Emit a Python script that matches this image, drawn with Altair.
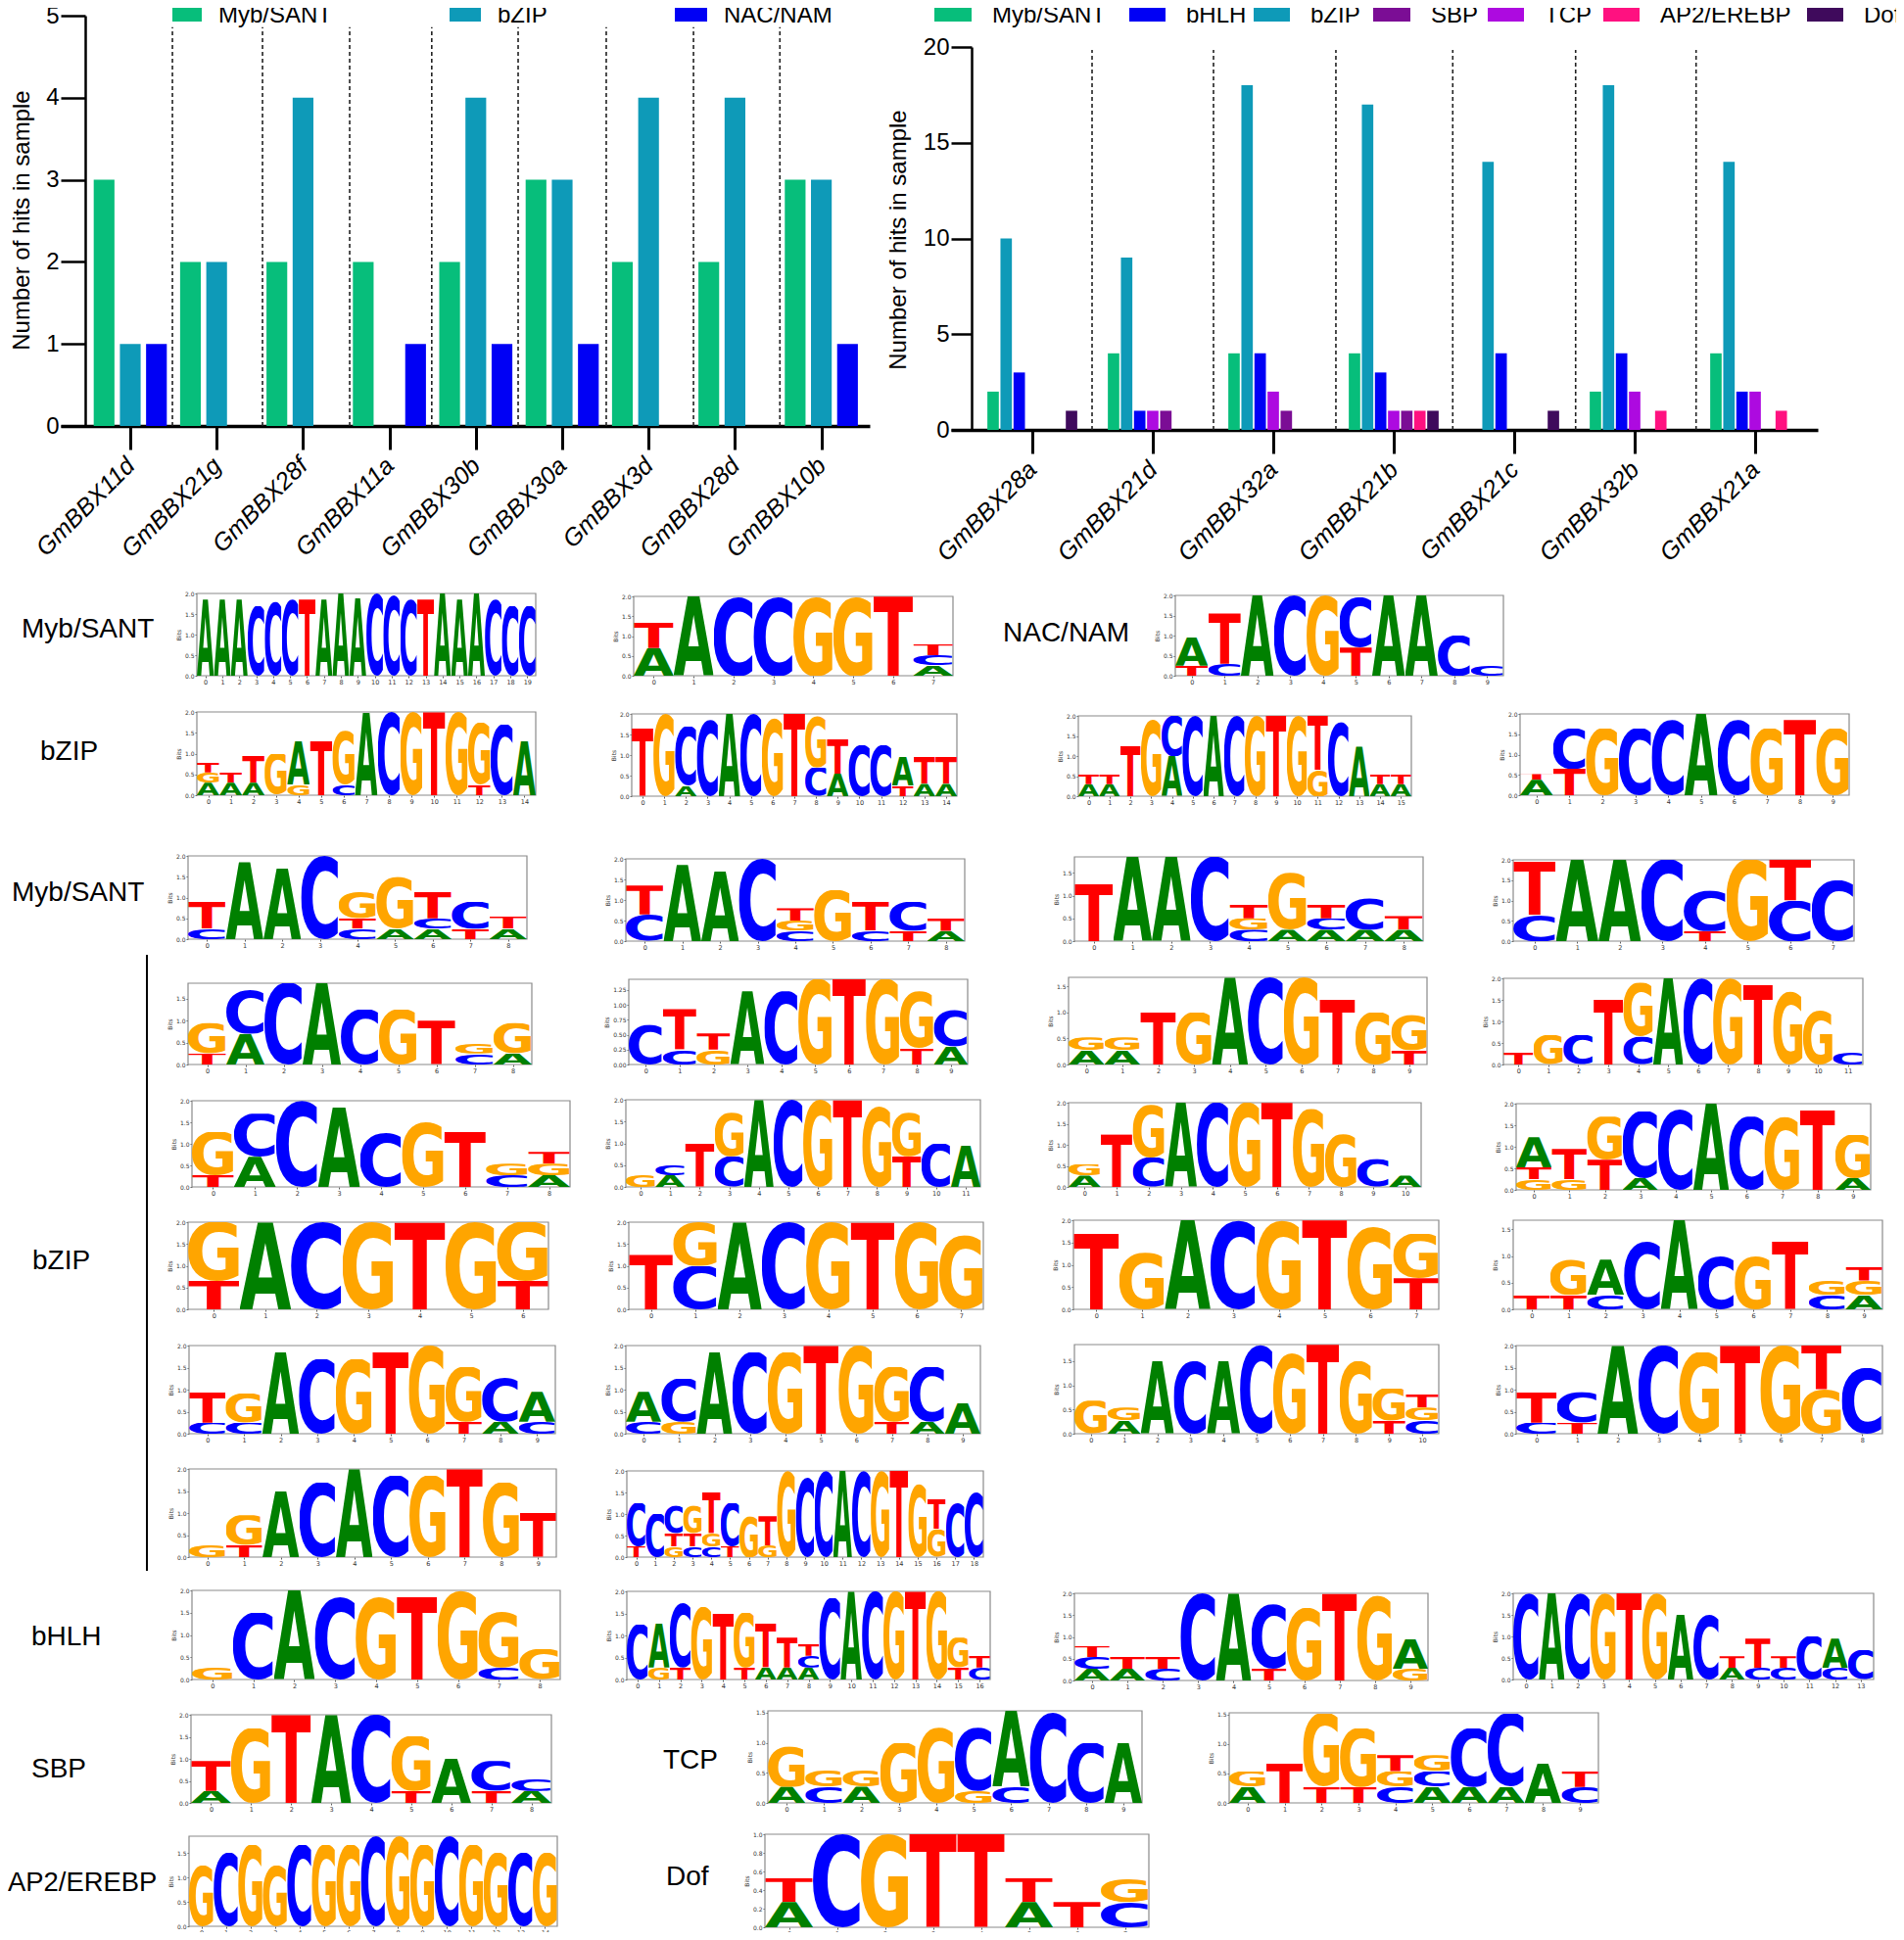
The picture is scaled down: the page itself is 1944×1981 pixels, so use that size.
import base64, json
import altair as alt
import pandas as pd

W, H = 1928, 1965
FONT = "Liberation Sans"
def px(v): return v - 8
def py(v): return v - 8

# ---------- bar data ----------
G1 = ["GmBBX11d","GmBBX21g","GmBBX28f","GmBBX11a","GmBBX30b","GmBBX30a","GmBBX3d","GmBBX28d","GmBBX10b"]
G1_MYB  = [3,2,2,2,2,3,2,2,3]
G1_BZIP = [1,2,4,0,4,3,4,4,3]
G1_NAC  = [1,0,0,1,1,1,0,0,1]
G1_SEP  = [0.488,1.531,2.54,3.49,4.49,5.51,6.52,7.52]

G2 = ["GmBBX28a","GmBBX21d","GmBBX32a","GmBBX21b","GmBBX21c","GmBBX32b","GmBBX21a"]
G2_MYB  = [2,4,4,4,0,2,4]
G2_BZIP = [10,9,18,17,14,18,14]
G2_BHLH = [3,1,4,3,4,4,2]
G2_TCP  = [0,1,2,1,0,2,2]
G2_SBP  = [0,1,1,1,0,0,0]
G2_AP2  = [0,0,0,1,0,1,1]
G2_DOF  = [1,0,0,1,1,0,0]
G2_SEP  = [0.496,1.504,2.52,3.49,4.51,5.51]

COL = {"Myb/SANT":"#07BE7B","bZIP":"#0E9AB8","NAC/NAM":"#0000F5","bHLH":"#0000F5",
       "TCP":"#AD0AE0","SBP":"#7B0D95","AP2/EREBP":"#FF1180","Dof":"#3F0A5C"}

# ---------- logo data: each column bottom-to-top as letter+height in bits ----------
L01 = ["A1.85","A1.85","A1.85","C1.7","C1.8","C1.85","T1.85","A1.85","A2","A1.9","C2","C1.95","C1.85","T1.85","A2","A1.85","A2","C1.85","C1.7","C1.7"]
L02 = ["A.7 T.65","A2","C2","C2","G2","G2","T2","A.27 C.25 T.28"]
L03 = ["T.25 A.7","C.3 T1.25","A2","C2","G2","T.7 C1.25","A2","A2","C1","C.25"]
L04 = ["A.3 G.25 T.25","A.3 T.25","A.3 T.65","G1","G.25 A1.05","T1.3","C.25 G1.3","A2","C2","G2","T2","G2","T.25 G1.5","C1.7","A1.3"]
L05 = ["T1.65","G2","A.25 C1.45","C1.85","A2","C2","G1.9","T2","C.7 G1.25","A.55 T.85","C1.25","C1.25","T.25 A.7","A.3 T.65","A.3 T.65"]
L06 = ["A.3 T.25","A.3 T.25","T1.25","G1.9","A1 C1","C2","A2","C2","G2","T2","G2","G.65 T1.35","C1.85","A1.25","A.3 T.25","A.3 T.25"]
L07 = ["A.38 T.14","T.65 C1","G1.65","C1.65","C1.85","A2","C1.85","G1.65","T1.85","G1.65"]
L08 = ["C.25 T.65","A1.85","A1.7","C2","C.25 T.25 G.65","A.25 G1.25","A.25 C.25 T.65","T.25 C.65","A.25 T.3"]
L09 = ["C.65 T.7","A1.85","A1.7","C2","C.25 G.25 T.3","G1.25","C.25 T.7","T.25 C.7","A.25 T.3"]
L10 = ["T1.25","A1.85","A1.85","C1.85","C.25 G.25 T.3","A.25 G1.25","A.25 C.25 T.3","A.25 C.7","A.25 T.3"]
L11 = ["C.65 T1.3","A2","A2","C2","T.25 C1","G2","C1 T1","C1.5"]
L12 = ["T.25 G.7","A.7 C1","C1.85","A1.85","C1.25","G1.25","T1","C.25 G.25","A.25 G.7"]
L13 = ["C.67","C.25 T.68","G.25 T.27","A1.23","C1.23","G1.43","T1.43","G1.43","T.27 G.96","A.3 C.62"]
L14 = ["A.27 G.25","A.27 G.25","T1","G1","A1.67","C1.67","G1.67","T1.25","G1","T.27 G.68"]
L15 = ["T.27","G.68","C.68","T1.5","C.65 G1.25","A2","C2","G2","T1.85","G1.7","G1.25","C.27"]
L16 = ["T.27 G1","A.7 C1","C2","A1.85","C1.27","G1.5","T1.27","C.27 G.27","A.27 G.27 T.27"]
L17 = ["G.27","A.27 C.25","T1","C.7 G1","A2","C2","G2","T2","G1.85","T.7 G1","C1","A.95"]
L18 = ["A.27 G.27","T1.25","C.7 G1.25","A2","C2","G2","T2","G1.85","G1.25","C.67","A.27"]
L19 = ["G.25 T.27 A.7","G.25 T.7","T.7 G1","A.27 C1.55","C1.87","A2","C1.7","G1.7","T1.85","A.27 G1"]
L20 = ["T.65 G1.35","A2","C2","G2","T2","G2","T.65 G1.35"]
L21 = ["T1.25","C1 G1","A2","C2","G2","T2","G2","G1.7"]
L22 = ["T1.7","G1.27","A2","C2","G2","T2","G1.85","T.7 G1"]
L23 = ["T.27","T.27 G.68","C.27 A.66","C1.27","A1.67","C1","G1","T1.27","C.27 G.27","A.27 G.27 T.25"]
L24 = ["C.25 T.7","C.25 G.67","A1.85","C1.7","G1.7","T1.85","G2","T.27 G1.25","A.27 C1","C.27 A.68"]
L25 = ["C.27 A.68","G.27 C.98","A1.85","C1.85","G1.85","T2","G2","T.27 G1.25","A.27 C1.25","A.7"]
L26 = ["G.68","A.27 G.27","A1.5","C1.5","A1.5","C1.84","G1.67","T1.84","G1.5","T.27 G.67","C.27 G.27 T.27"]
L27 = ["C.25 T.7","T.25 C.7","A2","C2","G1.85","T2","G2","G1 T1","C1.5"]
L28 = ["G.27","T.27 G.68","A1.5","C1.7","A2","C1.85","G1.85","T2","G1.7","T1"]
L29 = ["T.25 C1","C1","G.25 T.3 C.65","C.25 T.3 G.65","C.25 G.3 T.95","T.25 C1","G.95","G.27 T.68","G2","C1.85","C2","A2","C2","G2","T2","G1.7","G.65 T.7","C1.25","C1.5"]
L30 = ["G.27","C1.5","A2","C1.85","G1.85","T1.85","G2","C.27 G1.25","G.68"]
L31 = ["C1.25","G.27 A1","T.27 C1.48","G1.65","T1.5","T.27 G1.25","A.27 T1","A.27 T.68","A.27 C.27 T.27","C1.85","A2","C2","G2","T2","G2","T.27 G.68","C.27 T.27"]
L32 = ["A.27 C.27 T.25","A.27 T.27","C.27 T.27","C2","A2","T.27 C1.48","G1.67","T2","G1.95","G.27 A.68"]
L33 = ["C2","A2","C2","G2","T2","G2","A1.5","C1.5","A.27 T.27","C.27 T.68","C.27 T.27","C1","C.27 A.68","C.68"]
L34 = ["A.27 T.68","G1.7","T2","A2","C2","T.27 G1.25","A1","T.27 C.68","A.27 C.27"]
L35 = ["A.27 G.67","C.27 G.27","A.27 G.27","G1","G1.25","G.2 C1.05","C.27 A1.26","C1.5","C1","A1"]
L36 = ["A.27 G.27","T.67","T.27 G1.25","T.27 G1","C.27 G.27 T.27","A.27 C.27 G.27","A.27 C1","A.27 C1.25","A.67","C.27 T.27"]
L37 = ["G1.25","C1.5","G1.67","G1.25","C1.67","G1.67","G1.67","C1.84","G1.84","G1.67","C1.84","G1.67","G1.5","C1.5","G1.5"]
L38 = ["A.27 T.26","C1","G1","T1","T1","A.27 T.26","T.27","C.27 G.25"]

LOGOS = [L01,L02,L03,L04,L05,L06,L07,L08,L09,L10,L11,L12,L13,L14,L15,L16,L17,L18,L19,
         L20,L21,L22,L23,L24,L25,L26,L27,L28,L29,L30,L31,L32,L33,L34,L35,L36,L37,L38]
YMAX = [2,2,2,2,2,2,2,2,2,1.85,2,1.85,1.43,1.67,2,2,2,2,2,2,2,2,1.67,2,2,1.84,2,2,2,2,2,2,2,2,1.53,1.53,1.84,1]
YSTEP = [.5]*12+[.25]+[.5]*24+[.2]

# layout boxes: left, right, top, bottom in page pixels
BOX = [(201,547,606,690),(647,973,609,690),(1200,1535,608,690),
       (201,547,727,812),(645,977,729,813),(1101,1441,731,813),(1552,1888,729,812),
       (192,538,874,959),(639,985,877,961),(1097,1453,875,961),(1545,1893,878,961),
       (192,543,1004,1087),(642,988,1000,1087),(1091,1457,998,1087),(1535,1902,999,1087),
       (196,582,1124,1212),(639,1001,1123,1212),(1091,1451,1126,1212),(1548,1910,1127,1215),
       (192,560,1248,1337),(642,1004,1248,1337),(1096,1469,1246,1337),(1545,1922,1246,1337),
       (193,567,1374,1464),(639,1001,1374,1464),(1097,1469,1373,1464),(1548,1922,1374,1464),
       (193,568,1500,1590),(640,1004,1502,1590),
       (196,572,1624,1715),(640,1011,1625,1715),(1097,1458,1627,1716),(1545,1913,1627,1715),
       (195,563,1751,1841),(784,1166,1747,1841),(1255,1632,1749,1841),
       (193,569,1875,1967),(781,1173,1873,1968)]

LETTER_COL = {"A":"#008000","C":"#0000FF","G":"#FFA500","T":"#FF0000"}
LETTER_VB = {"A":"5 -729 764 729","C":"49 -743 640 757","G":"49 -743 716 757","T":"-3 -729 688 729"}
def letter_url(ch):
    svg = (f'<svg xmlns="http://www.w3.org/2000/svg" width="200" height="200" viewBox="{LETTER_VB[ch]}" '
           f'preserveAspectRatio="none"><text x="0" y="0" font-family="DejaVu Sans" font-weight="bold" '
           f'font-size="1000" fill="{LETTER_COL[ch]}">{ch}</text></svg>')
    return "data:image/svg+xml;base64," + base64.b64encode(svg.encode()).decode()
URL = {c: letter_url(c) for c in "ACGT"}

def logo_layers(cols, ymax, step, box):
    rows = []
    for i, col in enumerate(cols):
        base = 0.0
        for seg in col.split():
            h = float(seg[1:])
            rows.append(dict(x0=i-.5, x1=i+.5, y0=base, y1=base+h, url=URL[seg[0]]))
            base += h
    n = len(cols)
    l, r, t, b = box
    sx = alt.Scale(domain=[-.5, n-.5], range=[px(l), px(r)], nice=False, zero=False)
    sy = alt.Scale(domain=[0, ymax], range=[py(b), py(t)], nice=False, zero=False)
    yt = []
    v = 0.0
    while v <= ymax + 1e-9:
        yt.append(round(v, 2)); v += step
    fmt = ".2f" if step < .2 or step == .25 else ".1f"
    frame = pd.DataFrame([dict(x0=-.5, x1=n-.5, y0=0, y1=ymax)])
    f = alt.Chart(frame).mark_rect(fill="white", stroke="#8a8a8a", strokeWidth=1.2).encode(
        x=alt.X("x0:Q", scale=sx, axis=None), x2="x1:Q",
        y=alt.Y("y0:Q", scale=sy, axis=None), y2="y1:Q")
    ax = alt.Axis(orient="bottom", offset=py(b)-H, values=list(range(n)), format="d", grid=False, domain=False,
                  tickSize=2, tickWidth=.8, tickColor="#333", labelFontSize=6.5, labelColor="#333", labelPadding=1,
                  labelFont="DejaVu Sans", labelFlush=False, labelOverlap=False, labelAngle=0, title=None)
    ay = alt.Axis(orient="left", offset=-px(l), values=yt, format=fmt, grid=False, domain=False,
                  tickSize=2, tickWidth=.8, tickColor="#333", labelFontSize=6, labelColor="#333", labelPadding=1,
                  labelFont="DejaVu Sans", labelFlush=False, labelOverlap=False, title="Bits", titleFontSize=6,
                  titleFont="DejaVu Sans", titleFontWeight="normal", titleColor="#333", titlePadding=3)
    g = alt.Chart(pd.DataFrame(rows)).mark_image(aspect=False).encode(
        x=alt.X("x0:Q", scale=sx, axis=ax), x2="x1:Q",
        y=alt.Y("y0:Q", scale=sy, axis=ay), y2="y1:Q", url="url:N")
    return [f, g]

def bars(groups, series, colors, slots, pitch, bw, x_scale_dom, x_rng, y_dom, y_rng, yvals, ytick, seps, sep_top):
    rows = []
    k = len(series)
    for gi, _ in enumerate(groups):
        for si, vals in enumerate(series):
            if vals[gi] > 0:
                c = gi + (si - (k-1)/2) * pitch
                rows.append(dict(x0=c-bw/2, x1=c+bw/2, v=vals[gi], z=0, c=colors[si]))
    sx = alt.Scale(domain=x_scale_dom, range=[px(x_rng[0]), px(x_rng[1])], nice=False, zero=False)
    sy = alt.Scale(domain=y_dom, range=[py(y_rng[0]), py(y_rng[1])], nice=False, zero=False)
    yaxis_x = slots
    ax = alt.Axis(orient="bottom", offset=py(y_rng[0])-H, values=list(range(len(groups))),
                  labelExpr=f"{json.dumps(groups)}[datum.value]", grid=False, domainWidth=3.5, domainColor="black",
                  tickSize=24, tickWidth=3, tickColor="black", labelAngle=315, labelAlign="right", labelBaseline="middle",
                  labelFont=FONT, labelFontStyle="italic", labelFontSize=25, labelColor="black", labelPadding=12,
                  labelFlush=False, labelOverlap=False, title=None)
    ay = alt.Axis(orient="left", offset=-px(yaxis_x), values=yvals, format="d", grid=False, domainWidth=2.5, domainColor="black",
                  tickSize=ytick, tickWidth=2.5, tickColor="black", labelFont=FONT, labelFontSize=24, labelColor="black",
                  labelPadding=2, labelFlush=False, labelOverlap=False, title=None)
    b = alt.Chart(pd.DataFrame(rows)).mark_rect().encode(
        x=alt.X("x0:Q", scale=sx, axis=ax), x2="x1:Q",
        y=alt.Y("v:Q", scale=sy, axis=ay), y2="z:Q",
        color=alt.Color("c:N", scale=None))
    d = alt.Chart(pd.DataFrame(dict(x=seps, y0=[0]*len(seps), y1=[sep_top]*len(seps)))).mark_rule(
        color="#222", strokeWidth=1.6, strokeDash=[4, 3]).encode(
        x=alt.X("x:Q", scale=sx, axis=None), y=alt.Y("y0:Q", scale=sy, axis=None), y2="y1:Q")
    return [d, b]

# ---------- free-standing labels and legend ----------
ROW_LABELS = ["Myb/SANT","NAC/NAM","bZIP","Myb/SANT","bZIP","bHLH","SBP","TCP","AP2/EREBP","Dof"]
ROW_X = [22,1024,41,12,33,32,32,677,8,680]
ROW_Y = [643,647,768,912,1288,1672,1807,1798,1923,1917]
ROW_FS = [28,28,28,28,28,28,28,28,27.4,28]
LEG_NAMES = ["Myb/SANT","bZIP","NAC/NAM","Myb/SANT","bHLH","bZIP","SBP","TCP","AP2/EREBP","Dof"]
LEG_X0 = [176,459,689,954,1153,1280,1402,1519,1637,1845]
LEG_X1 = [206,491,722,992,1190,1317,1440,1556,1674,1882]
LEG_TX = [223,508,739,1013,1211,1338,1461,1577,1695,1903]
LEG_Y0, LEG_Y1, LEG_TY = 8, 22, 16

rl = pd.DataFrame(dict(t=ROW_LABELS, x=[px(v) for v in ROW_X], y=[py(v) for v in ROW_Y], s=ROW_FS))
row_text = alt.Chart(rl).mark_text(align="left", baseline="middle", font=FONT, color="black").encode(
    x=alt.X("x:Q", scale=None, axis=None), y=alt.Y("y:Q", scale=None, axis=None), text="t:N",
    size=alt.Size("s:Q", scale=None, legend=None))
leg = pd.DataFrame(dict(t=LEG_NAMES, x0=[px(v) for v in LEG_X0], x1=[px(v) for v in LEG_X1], tx=[px(v) for v in LEG_TX],
                        y0=[py(LEG_Y0)]*10, y1=[py(LEG_Y1)]*10, ty=[py(LEG_TY)]*10,
                        c=[COL["Myb/SANT"],COL["bZIP"],COL["NAC/NAM"],COL["Myb/SANT"],COL["bHLH"],COL["bZIP"],COL["SBP"],COL["TCP"],COL["AP2/EREBP"],COL["Dof"]]))
leg_sw = alt.Chart(leg).mark_rect().encode(
    x=alt.X("x0:Q", scale=None, axis=None), x2="x1:Q", y=alt.Y("y0:Q", scale=None, axis=None), y2="y1:Q",
    color=alt.Color("c:N", scale=None))
leg_tx = alt.Chart(leg).mark_text(align="left", baseline="middle", font=FONT, fontSize=24, color="black").encode(
    x=alt.X("tx:Q", scale=None, axis=None), y=alt.Y("ty:Q", scale=None, axis=None), text="t:N")
ytitle = pd.DataFrame(dict(t=["Number of hits in sample"]*2, x=[px(23), px(918)], y=[py(225), py(245)]))
y_tx = alt.Chart(ytitle).mark_text(angle=270, align="center", baseline="middle", font=FONT, fontSize=24, color="black").encode(
    x=alt.X("x:Q", scale=None, axis=None), y=alt.Y("y:Q", scale=None, axis=None), text="t:N")
brace = alt.Chart(pd.DataFrame(dict(x=[px(150)], y0=[py(975)], y1=[py(1604)]))).mark_rule(color="black", strokeWidth=2).encode(
    x=alt.X("x:Q", scale=None, axis=None), y=alt.Y("y0:Q", scale=None, axis=None), y2="y1:Q")

layers = []
layers += bars(G1, [G1_MYB, G1_BZIP, G1_NAC], [COL["Myb/SANT"],COL["bZIP"],COL["NAC/NAM"]], 87, .303, .24,
               [(62-133)/88.2, (888-133)/88.2], (62,888), [0,5], (435,16), [0,1,2,3,4,5], 25, G1_SEP, 4.86)
layers += bars(G2, [G2_MYB,G2_BZIP,G2_BHLH,G2_TCP,G2_SBP,G2_AP2,G2_DOF],
               [COL["Myb/SANT"],COL["bZIP"],COL["bHLH"],COL["TCP"],COL["SBP"],COL["AP2/EREBP"],COL["Dof"]], 992, .1085, .095,
               [(971-1054)/123, (1856-1054)/123], (971,1856), [0,20], (439,48), [0,5,10,15,20], 21, G2_SEP, 19.85)
for cols, ym, st, box in zip(LOGOS, YMAX, YSTEP, BOX):
    layers += logo_layers(cols, ym, st, box)
layers += [row_text, leg_sw, leg_tx, y_tx, brace]

chart = alt.layer(*layers).resolve_scale(x="independent", y="independent").resolve_axis(x="independent", y="independent").properties(
    width=W, height=H, padding=0, autosize=alt.AutoSizeParams(type="none", contains="padding")
).configure_view(stroke=None).configure_axis(labelLimit=0)

chart.save("out.html", embed_options={"renderer": "svg", "actions": False})
